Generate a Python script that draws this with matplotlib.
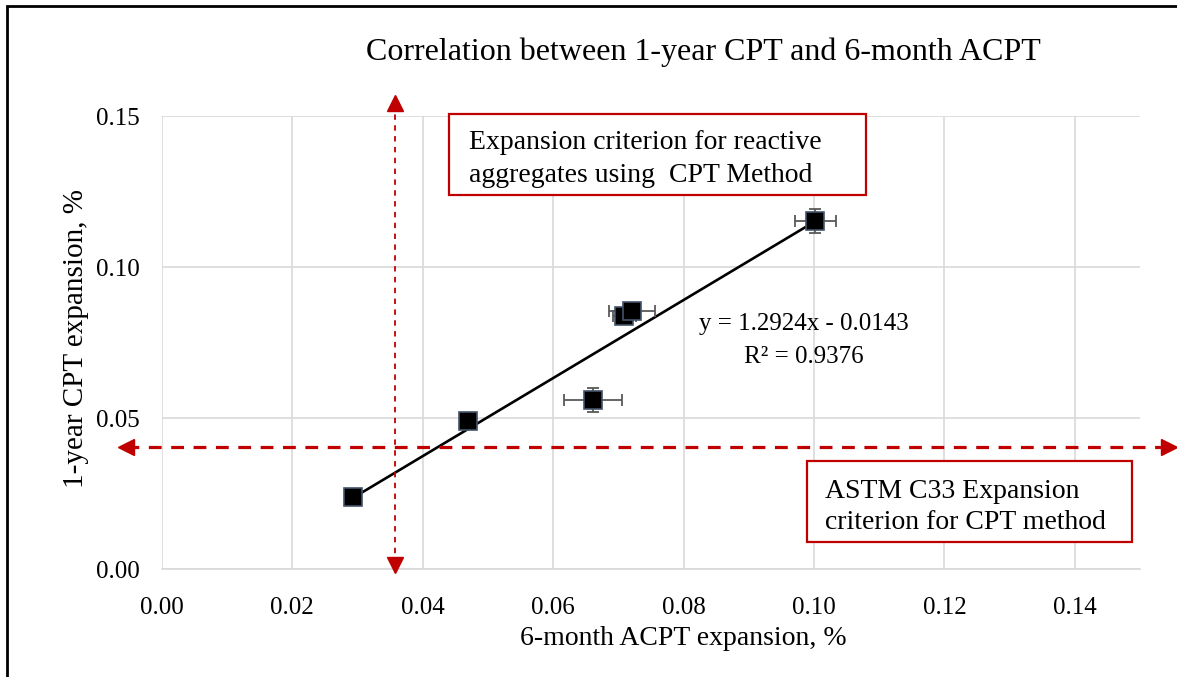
import matplotlib.pyplot as plt
from matplotlib.patches import Rectangle

plt.rcParams["font.family"] = ["Liberation Serif", "DejaVu Serif"]

# 6-month ACPT vs 1-year CPT expansion (%)
acpt = [0.0293, 0.0469, 0.0661, 0.0709, 0.0721, 0.1002]
cpt = [0.0238, 0.0490, 0.0560, 0.0838, 0.0854, 0.1152]
acpt_err = [0.0, 0.0, 0.0045, 0.0018, 0.0035, 0.0031]
cpt_err = [0.0, 0.0, 0.0040, 0.0015, 0.0015, 0.0040]

slope, intercept = 1.2924, -0.0143
r2 = 0.9376

cpt_limit = 0.0405     # ASTM C33 criterion (horizontal)
acpt_limit = 0.0357    # matching ACPT value (vertical)

fig = plt.figure(figsize=(11.77, 6.77), dpi=100)
ax = fig.add_axes([0.1376, 0.1595, 0.831, 0.669])

ax.set_xlim(0, 0.15)
ax.set_ylim(0, 0.15)
ax.set_xticks([0.00, 0.02, 0.04, 0.06, 0.08, 0.10, 0.12, 0.14])
ax.set_yticks([0.00, 0.05, 0.10, 0.15])
ax.xaxis.set_major_formatter(lambda v, p: f"{v:.2f}")
ax.yaxis.set_major_formatter(lambda v, p: f"{v:.2f}")
ax.tick_params(length=0, labelsize=18)
ax.tick_params(axis="x", pad=20)
ax.tick_params(axis="y", pad=16)
ax.grid(True, color="#d9d9d9", lw=1.2)
ax.set_axisbelow(True)
for s in ["top", "right", "left"]:
    ax.spines[s].set_visible(False)
ax.spines["bottom"].set_color("#d9d9d9")
ax.spines["bottom"].set_linewidth(1.2)

ax.set_xlabel("6-month ACPT expansion, %", fontsize=20)
ax.xaxis.set_label_coords(0.533, -0.125)
ax.set_ylabel("1-year CPT expansion, %", fontsize=21)
ax.yaxis.set_label_coords(-0.075, 0.51)
fig.text(703 / 1177, 1 - 52 / 677, "Correlation between 1-year CPT and 6-month ACPT",
         ha="center", va="center", fontsize=23)

# trendline over the data range
x0, x1 = min(acpt), max(acpt)
ax.plot([x0, x1], [slope * x0 + intercept, slope * x1 + intercept],
        color="black", lw=1.9, zorder=3)

ax.errorbar(acpt, cpt, xerr=acpt_err, yerr=cpt_err, fmt="none",
            ecolor="#595959", elinewidth=1.3, capsize=4, capthick=1.3, zorder=4)
ax.plot(acpt, cpt, "s", ms=13, mfc="black", mec="#44546a", mew=1.2,
        ls="none", zorder=5)

ax.text(0.0985, 0.0758, f"y = {slope}x - {abs(intercept)}\nR² = {r2}",
        ha="center", va="center", fontsize=18, multialignment="center",
        linespacing=1.65)

# criterion guide lines with arrow heads
red = "#c00000"
ax.plot([-0.0055, 0.1545], [cpt_limit, cpt_limit], color=red, lw=2.3,
        dashes=(4, 3), clip_on=False, zorder=6)
ax.plot([-0.0055], [cpt_limit], "<", ms=11, color=red, clip_on=False, zorder=6)
ax.plot([0.1545], [cpt_limit], ">", ms=11, color=red, clip_on=False, zorder=6)

ax.plot([acpt_limit, acpt_limit], [0.0015, 0.1535], color=red, lw=1.3,
        dashes=(3, 3), clip_on=False, zorder=6)
ax.plot([acpt_limit], [0.1542], "^", ms=12, color=red, clip_on=False, zorder=6)
ax.plot([acpt_limit], [0.0013], "v", ms=12, color=red, clip_on=False, zorder=6)

# annotation boxes
W, H = 1177, 677
def fig_box(x0, y0, x1, y1):
    fig.add_artist(Rectangle((x0 / W, 1 - y1 / H), (x1 - x0) / W, (y1 - y0) / H,
                             transform=fig.transFigure, fc="white", ec=red,
                             lw=1.6, zorder=7))

fig_box(449, 114, 866, 195)
fig.text(469 / W, 1 - 159 / H, "Expansion criterion for reactive\naggregates using  CPT Method",
         ha="left", va="center", fontsize=20, linespacing=1.38, zorder=8)

fig_box(807, 461, 1132, 542)
fig.text(825 / W, 1 - 507 / H, "ASTM C33 Expansion\ncriterion for CPT method",
         ha="left", va="center", fontsize=20, linespacing=1.33, zorder=8)

# outer frame
fig.add_artist(Rectangle((7 / W, -0.05), 1.1, 1 - 6 / H + 0.05,
                         transform=fig.transFigure, fill=False, ec="black", lw=2))

fig.savefig("out.png", dpi=100)
